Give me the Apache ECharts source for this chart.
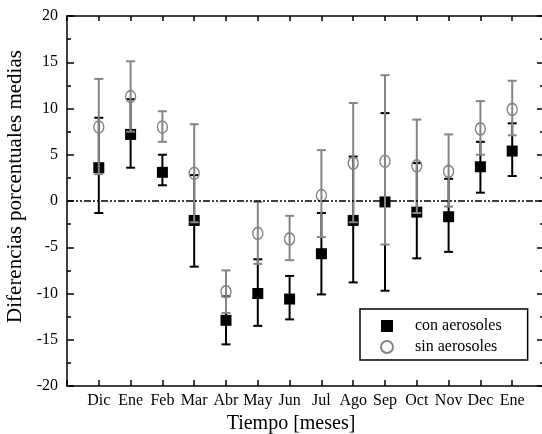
<!DOCTYPE html>
<html>
<head>
<meta charset="utf-8">
<script src="https://cdn.jsdelivr.net/npm/echarts@6/dist/echarts.min.js"></script>
<style>
  html, body { margin: 0; padding: 0; background: #fff; }
  #chart { width: 542px; height: 434px; }
</style>
</head>
<body>
<div id="chart"></div>
<script>
// meses (eje x)
const months = ['Dic', 'Ene', 'Feb', 'Mar', 'Abr', 'May', 'Jun', 'Jul', 'Ago', 'Sep', 'Oct', 'Nov', 'Dec', 'Ene'];
// con aerosoles: media y extremos de la barra de error
const conMean = [3.6, 7.2, 3.1, -2.1, -12.9, -10.0, -10.6, -5.7, -2.1, -0.1, -1.2, -1.7, 3.7, 5.4];
const conHigh = [9.0, 11.0, 5.0, 2.8, -10.3, -6.3, -8.1, -1.3, 4.8, 9.5, 4.1, 2.4, 6.4, 8.4];
const conLow = [-1.3, 3.6, 1.7, -7.1, -15.5, -13.5, -12.8, -10.1, -8.8, -9.7, -6.2, -5.5, 0.9, 2.7];
// sin aerosoles
const sinMean = [8.0, 11.3, 8.0, 3.0, -9.8, -3.5, -4.1, 0.6, 4.1, 4.3, 3.8, 3.2, 7.8, 9.9];
const sinHigh = [13.2, 15.1, 9.7, 8.3, -7.5, -0.1, -1.6, 5.5, 10.6, 13.6, 8.8, 7.2, 10.8, 13.0];
const sinLow = [2.9, 7.5, 6.4, -2.3, -12.1, -6.8, -6.4, -3.9, -2.3, -4.7, -1.3, -0.6, 5.0, 7.1];
// ticks eje y
const yTicks = [-20, -15, -10, -5, 0, 5, 10, 15, 20];

const font = 'Liberation Serif';
const gray = '#858585';

const errorBar = (color) => (params, api) => {
  const x = api.value(0);
  const lo = api.coord([x, api.value(1)]);
  const hi = api.coord([x, api.value(2)]);
  const w = 4.5;
  const style = { stroke: color, lineWidth: 2, fill: null };
  return {
    type: 'group',
    children: [
      { type: 'line', shape: { x1: hi[0], y1: hi[1], x2: lo[0], y2: lo[1] }, style: style },
      { type: 'line', shape: { x1: hi[0] - w, y1: hi[1], x2: hi[0] + w, y2: hi[1] }, style: style },
      { type: 'line', shape: { x1: lo[0] - w, y1: lo[1], x2: lo[0] + w, y2: lo[1] }, style: style }
    ]
  };
};

const axisBase = {
  type: 'value',
  axisLine: { show: true, onZero: false, lineStyle: { color: '#000', width: 1.5 } },
  splitLine: { show: false }
};

let chart = echarts.init(document.getElementById('chart'));
chart.setOption({
  animation: false,
  grid: { left: 67, top: 16, width: 477, height: 370, outerBoundsMode: 'none' },
  legend: {
    data: ['con aerosoles', 'sin aerosoles'],
    orient: 'vertical',
    left: 360,
    top: 309,
    itemWidth: 12,
    itemHeight: 12,
    itemGap: 5,
    padding: [9, 26, 5, 20],
    borderColor: '#000',
    borderWidth: 1.5,
    selectedMode: false,
    textStyle: { fontFamily: font, fontSize: 16, color: '#000', padding: [0, 0, 0, 17] }
  },
  xAxis: [
    Object.assign({}, axisBase, {
      position: 'bottom', min: -1, max: 14, interval: 1,
      axisTick: { inside: true, length: 6, lineStyle: { color: '#000', width: 1.5 } },
      axisLabel: {
        margin: 7, fontFamily: font, fontSize: 16, color: '#000',
        formatter: (v) => (months[v] !== undefined ? months[v] : '')
      },
      name: 'Tiempo [meses]',
      nameLocation: 'middle',
      nameGap: 28,
      nameTextStyle: { fontFamily: font, fontSize: 20, color: '#000', padding: [0, 29, 0, 0] }
    }),
    Object.assign({}, axisBase, {
      position: 'top', min: -1, max: 14, interval: 1,
      axisTick: { inside: true, length: 5, lineStyle: { color: '#000', width: 1.5 } },
      axisLabel: { show: false }
    })
  ],
  yAxis: [
    Object.assign({}, axisBase, {
      position: 'left', min: yTicks[0], max: yTicks[yTicks.length - 1], interval: 5,
      axisTick: { inside: true, length: 7, lineStyle: { color: '#000', width: 1.5 } },
      minorTick: { show: true, splitNumber: 2, length: 4, lineStyle: { color: '#000', width: 1.5 } },
      axisLabel: { margin: 9, fontFamily: font, fontSize: 16, color: '#000' },
      name: 'Diferencias porcentuales medias',
      nameLocation: 'middle',
      nameGap: 27,
      nameTextStyle: { fontFamily: font, fontSize: 21, color: '#000', padding: [0, 0, 0, 29] }
    }),
    Object.assign({}, axisBase, {
      position: 'right', min: yTicks[0], max: yTicks[yTicks.length - 1], interval: 5,
      axisTick: { inside: true, length: 7, lineStyle: { color: '#000', width: 1.5 } },
      minorTick: { show: true, splitNumber: 2, length: 4, lineStyle: { color: '#000', width: 1.5 } },
      axisLabel: { show: false }
    })
  ],
  series: [
    {
      name: 'con error',
      type: 'custom',
      z: 1,
      renderItem: errorBar('#000'),
      data: months.map((m, i) => [i, conLow[i], conHigh[i]]),
      markLine: {
        silent: true,
        symbol: 'none',
        label: { show: false },
        lineStyle: { color: '#000', width: 1.5, type: [7, 2, 2, 2, 2, 2] },
        data: [{ yAxis: 0 }]
      }
    },
    {
      name: 'con aerosoles',
      type: 'scatter',
      z: 2,
      symbol: 'rect',
      symbolSize: 11,
      itemStyle: { color: '#000', opacity: 1 },
      data: months.map((m, i) => [i, conMean[i]])
    },
    {
      name: 'sin error',
      type: 'custom',
      z: 3,
      renderItem: errorBar(gray),
      data: months.map((m, i) => [i, sinLow[i], sinHigh[i]])
    },
    {
      name: 'sin aerosoles',
      type: 'scatter',
      z: 4,
      symbol: 'circle',
      symbolSize: [10, 12],
      itemStyle: { color: 'rgba(255,255,255,0)', borderColor: gray, borderWidth: 1.5, opacity: 1 },
      data: months.map((m, i) => [i, sinMean[i]])
    }
  ]
});
</script>
</body>
</html>
